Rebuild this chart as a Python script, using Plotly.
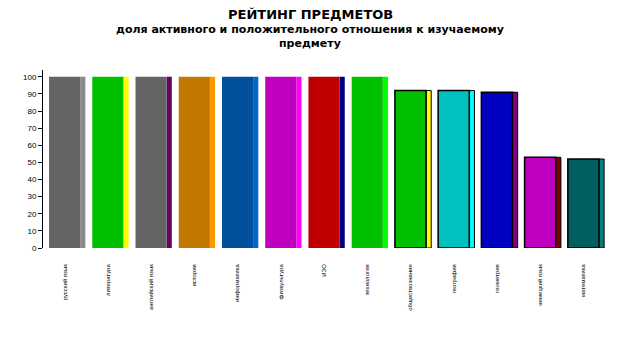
import plotly.graph_objects as go

categories = ["русский язык", "литература", "английский язык", "история", "информатика",
              "физкультура", "ИЗО", "технология", "обществознание", "география",
              "геометрия", "немецкий язык", "математика"]
values = [100, 100, 100, 100, 100, 100, 100, 100, 92, 92, 91, 53, 52]
front_colors = ["#646464", "#00C000", "#646464", "#C07800", "#00509C", "#C000C0", "#C00000",
                "#00C000", "#00C000", "#00C0C0", "#0000C0", "#C000C0", "#006060"]
side_colors = ["#8A8A8A", "#FFFF00", "#660066", "#FF9900", "#0066CC", "#FF00FF", "#000080",
               "#00FF00", "#FFFF00", "#00FFFF", "#800080", "#800000", "#008080"]
outlined = [False] * 8 + [True] * 5
y_ticks = list(range(0, 101, 10))

fig = go.Figure()
fig.add_trace(go.Bar(
    x=categories, y=values, width=0.12, offset=0.36,
    marker=dict(color=side_colors,
                line=dict(color=["#000000" if o else c for o, c in zip(outlined, side_colors)],
                          width=[1 if o else 0 for o in outlined])),
    showlegend=False, hoverinfo="skip"))
fig.add_trace(go.Bar(
    x=categories, y=values, width=0.72, offset=-0.36,
    marker=dict(color=front_colors,
                line=dict(color=["#000000" if o else c for o, c in zip(outlined, front_colors)],
                          width=[1.5 if o else 0 for o in outlined])),
    showlegend=False))

plot_l, plot_r, plot_t, plot_b = 43, 18, 70, 100
plot_w = 623 - plot_l - plot_r
plot_h = 348 - plot_t - plot_b
cx = (310 - plot_l) / plot_w

fig.update_layout(
    width=623, height=348, barmode="overlay",
    margin=dict(l=plot_l, r=plot_r, t=plot_t, b=plot_b),
    plot_bgcolor="white", paper_bgcolor="white",
    font=dict(family="Liberation Sans", color="black"),
    xaxis=dict(showline=False, showgrid=False, ticks="", tickangle=-90,
               tickfont=dict(size=6, family="Liberation Sans"), ticklabelstandoff=14,
               range=[-0.5, 12.5]),
    yaxis=dict(range=[0, 104], tickvals=y_ticks, showline=True, linecolor="black",
               linewidth=1, ticks="outside", ticklen=4, tickcolor="black",
               showgrid=False, zeroline=False, tickfont=dict(size=8)),
    annotations=[
        dict(text="<b>РЕЙТИНГ ПРЕДМЕТОВ</b>", x=cx, xref="paper",
             y=1 + (plot_t - 14) / plot_h, yref="paper", yanchor="middle",
             showarrow=False, font=dict(size=13, family="DejaVu Sans")),
        dict(text="<b>доля активного и положительного отношения к изучаемому<br>предмету</b>",
             x=cx, xref="paper", y=1 + (plot_t - 37) / plot_h, yref="paper",
             yanchor="middle", showarrow=False,
             font=dict(size=11, family="DejaVu Sans")),
    ],
)

fig.write_html("out.html")
